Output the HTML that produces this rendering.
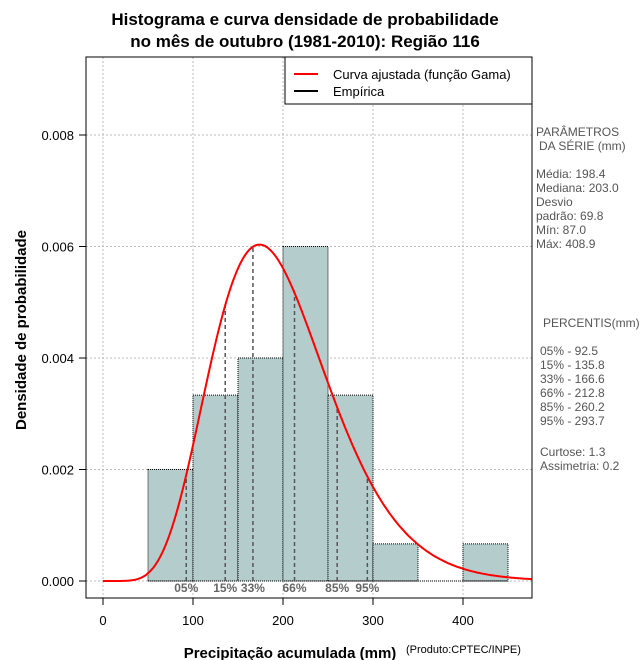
<!DOCTYPE html>
<html><head><meta charset="utf-8"><style>
body{margin:0;background:#fff;}
svg{display:block;font-family:"Liberation Sans",sans-serif;}
</style></head><body>
<svg id="c" width="640" height="660">
<text x="305" y="25" text-anchor="middle" font-size="17" font-weight="bold">Histograma e curva densidade de probabilidade</text>
<text x="305" y="47" text-anchor="middle" font-size="17" font-weight="bold">no mês de outubro (1981-2010): Região 116</text>
<g id="grid"></g><g id="bars"></g><g id="pct"></g><g id="curve"></g>
<rect x="86" y="57" width="446" height="541" fill="none" stroke="#000"/>
<g id="axes"></g>
<g>
<rect x="285" y="57" width="247" height="47" fill="#fff" stroke="#000"/>
<line x1="294" y1="74" x2="318" y2="74" stroke="red" stroke-width="2"/>
<text x="333" y="79" font-size="13">Curva ajustada (função Gama)</text>
<line x1="294" y1="91" x2="318" y2="91" stroke="#000" stroke-width="2"/>
<text x="333" y="96" font-size="13">Empírica</text>
</g>
<g font-size="12" fill="#555" style="white-space:pre">
<text x="536" y="136">PARÂMETROS</text><text x="539" y="150">DA SÉRIE (mm)</text>
<text x="536" y="178">Média:  198.4</text><text x="536" y="192">Mediana:  203.0</text>
<text x="536" y="206">Desvio</text><text x="536" y="220">padrão:  69.8</text>
<text x="536" y="234">Mín:  87.0</text><text x="536" y="248">Máx:  408.9</text>
<text x="543" y="327">PERCENTIS(mm)</text>
<text x="540" y="355">05% -   92.5</text><text x="540" y="369">15% -   135.8</text>
<text x="540" y="383">33% -   166.6</text><text x="540" y="397">66% -   212.8</text>
<text x="540" y="411">85% -   260.2</text><text x="540" y="425">95% -   293.7</text>
<text x="540" y="456">Curtose:  1.3</text><text x="540" y="470">Assimetria:  0.2</text>
</g>
<text x="290" y="658" text-anchor="middle" font-size="15" font-weight="bold">Precipitação acumulada (mm)</text>
<text x="406" y="653" font-size="11">(Produto:CPTEC/INPE)</text>
<text transform="translate(26,330) rotate(-90)" text-anchor="middle" font-size="15" font-weight="bold">Densidade de probabilidade</text>
</svg>
<script>
const binEdges=[50,100,150,200,250,300,350,400];
const binDensity=[0.002,0.003333,0.004,0.006,0.003333,0.000667,0,0.000667];
const binWidth=50;
const xTicks=[0,100,200,300,400];
const yTicks=[0,0.002,0.004,0.006,0.008];
const yTickLabels=["0.000","0.002","0.004","0.006","0.008"];
const gammaMean=198.4, gammaSd=69.8;
const pctValues=[92.5,135.8,166.6,212.8,260.2,293.7];
const pctLabels=["05%","15%","33%","66%","85%","95%"];
const NS="http://www.w3.org/2000/svg";
const X=v=>103+v*0.9, Y=v=>581-v*55750;
function mk(p,t,a){const e=document.createElementNS(NS,t);for(const k in a)e.setAttribute(k,a[k]);document.getElementById(p).appendChild(e);return e;}
function lg(z){const g=[676.5203681218851,-1259.1392167224028,771.32342877765313,-176.61502916214059,12.507343278686905,-0.13857109526572012,9.9843695780195716e-6,1.5056327351493116e-7];z-=1;let x=0.99999999999980993;for(let i=0;i<8;i++)x+=g[i]/(z+i+1);const t=z+7.5;return 0.5*Math.log(2*Math.PI)+(z+0.5)*Math.log(t)-t+Math.log(x);}
const shape=(gammaMean/gammaSd)**2, scale=gammaSd*gammaSd/gammaMean;
const pdf=x=>x<=0?0:Math.exp((shape-1)*Math.log(x)-x/scale-lg(shape)-shape*Math.log(scale));
xTicks.forEach(v=>{let e=mk('grid','line',{x1:X(v),x2:X(v),y1:57,y2:598,stroke:'#bbb','stroke-dasharray':'2,2'});
e=mk('axes','line',{x1:X(v),x2:X(v),y1:598,y2:605,stroke:'#000'});
e=mk('axes','text',{x:X(v),y:625,'text-anchor':'middle','font-size':13});e.textContent=v;});
yTicks.forEach((v,i)=>{let e=mk('grid','line',{x1:86,x2:532,y1:Y(v),y2:Y(v),stroke:'#bbb','stroke-dasharray':'2,2'});
e=mk('axes','line',{x1:79,x2:86,y1:Y(v),y2:Y(v),stroke:'#000'});
e=mk('axes','text',{x:74,y:Y(v)+5,'text-anchor':'end','font-size':13});e.textContent=yTickLabels[i];});
binEdges.forEach((b,i)=>{const d=binDensity[i];if(d<=0)return;const e=mk('bars','rect',{x:X(b),y:Y(d),width:X(b+binWidth)-X(b),height:Y(0)-Y(d),fill:'#b4cccc',stroke:'#000','stroke-dasharray':'1,1'});});
let e=mk('bars','line',{x1:X(binEdges[0]),x2:X(binEdges[binEdges.length-1]+binWidth),y1:Y(0),y2:Y(0),stroke:'#000','stroke-dasharray':'1,1'});
pctValues.forEach((p,i)=>{let e=mk('pct','line',{x1:X(p),x2:X(p),y1:Y(0),y2:Y(pdf(p)),stroke:'#555','stroke-width':1.5,'stroke-dasharray':'4,3'});
e=mk('pct','text',{x:X(p),y:592,'text-anchor':'middle','font-size':12,'font-weight':'bold',fill:'#666'});e.textContent=pctLabels[i];});
let d='';for(let v=0;v<=476;v+=2){d+=(v?'L':'M')+X(v).toFixed(1)+','+Y(pdf(v)).toFixed(1);}
e=mk('curve','path',{d:d,fill:'none',stroke:'red','stroke-width':2});
</script>
</body></html>
